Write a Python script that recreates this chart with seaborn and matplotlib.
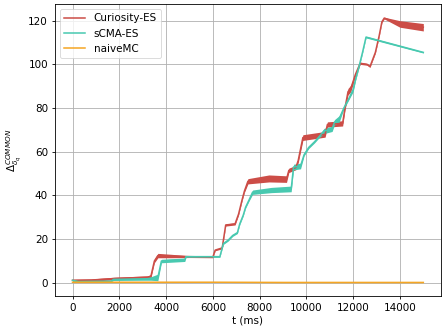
import numpy as np
import pandas as pd
import matplotlib
matplotlib.use("Agg")
import matplotlib.pyplot as plt
import seaborn as sns

# ---- data ----
series_names = ["Curiosity-ES", "sCMA-ES", "naiveMC"]
series_colors = ["#cc4d47", "#48c9b0", "#f5a623"]

curiosity_t = [0, 800, 1800, 3200, 3350, 3500, 3650, 4200, 5000, 6000, 6100, 6400,
               6550, 6950, 7100, 7250, 7350, 7500, 8400, 9150, 9250, 9550, 9650,
               9850, 10800, 10900, 11550, 11650, 11780, 11900, 12100, 12300, 12600,
               12720, 12950, 13110, 13230, 13330, 14000, 15000]
curiosity_mean = [1.2, 1.3, 2.0, 2.6, 3.0, 10.0, 12.5, 12.3, 12.0, 11.8, 15.0, 16.0,
                  26.5, 27.0, 31.5, 38.0, 42.0, 46.5, 47.8, 47.5, 51.5, 52.8, 56.0,
                  66.5, 68.0, 72.5, 73.0, 80.0, 87.5, 89.0, 95.5, 100.5, 100.0,
                  99.0, 105.5, 113.0, 119.5, 121.2, 118.5, 117.0]
curiosity_hw = [0.4, 0.5, 0.6, 0.6, 0.8, 0.8, 1.0, 0.8, 0.4, 0.3, 0.3, 0.4,
                0.5, 0.5, 0.5, 0.5, 0.6, 1.2, 1.6, 1.5, 1.0, 1.0, 1.0,
                1.3, 1.3, 1.2, 1.2, 1.0, 1.5, 1.5, 0.8, 0.5, 0.4,
                0.4, 0.4, 0.4, 0.4, 0.4, 1.5, 1.7]

scma_t = [0, 250, 1650, 1750, 3000, 3350, 3650, 3800, 4800, 4850, 6300, 6450, 6650,
          6850, 7050, 7150, 7300, 7400, 7550, 7700, 8500, 9350, 9450, 9750, 9900,
          10100, 10350, 10550, 10750, 11100, 11200, 11400, 11600, 11800, 12000,
          12100, 12250, 12400, 12550, 15000]
scma_mean = [1.2, 0.6, 0.8, 1.6, 1.8, 2.0, 2.5, 10.0, 10.6, 12.0, 12.0, 18.0, 19.5,
             21.7, 23.0, 27.0, 31.0, 34.6, 38.0, 41.5, 42.5, 43.0, 53.0, 53.5, 58.6,
             62.0, 64.6, 67.0, 69.5, 70.5, 73.5, 75.0, 80.0, 84.0, 88.5,
             93.0, 99.0, 105.5, 112.5, 105.5]
scma_hw = [0.4, 0.3, 0.3, 0.5, 0.6, 0.8, 1.5, 0.8, 0.8, 0.4, 0.3, 0.4, 0.4,
           0.4, 0.4, 0.4, 0.4, 0.4, 0.5, 1.0, 1.2, 1.3, 1.3, 1.3, 0.5,
           0.5, 0.5, 0.5, 1.2, 1.2, 1.2, 1.5, 0.5, 0.5, 1.0,
           0.5, 0.5, 0.5, 0.4, 0.3]

naive_t = [0, 3000, 6000, 9000, 12000, 15000]
naive_mean = [0.3, 0.3, 0.3, 0.2, 0.2, 0.2]
naive_hw = [0.2, 0.2, 0.1, 0.1, 0.1, 0.1]

xlabel = "t (ms)"
ylabel = r"$\Delta_{\delta_q}^{COMMON}$"

# ---- plotting ----
plt.rcParams["font.family"] = ["DejaVu Sans"]
FS = 7.5
fig = plt.figure(figsize=(4.42, 3.27), dpi=100)
ax = fig.add_axes([0.1244, 0.095, 0.873, 0.893])

all_series = [
    (curiosity_t, curiosity_mean, curiosity_hw),
    (scma_t, scma_mean, scma_hw),
    (naive_t, naive_mean, naive_hw),
]
for name, color, (t, m, hw) in zip(series_names, series_colors, all_series):
    t = np.asarray(t, float)
    m = np.asarray(m, float)
    hw = np.asarray(hw, float)
    ax.fill_between(t, m - hw, m + hw, color=color, alpha=1.0, linewidth=0, zorder=2)
    sns.lineplot(x=t, y=m, ax=ax, color=color, label=name, linewidth=1.1, zorder=3)

ax.grid(True, color="#b0b0b0", linewidth=0.6)
ax.set_axisbelow(True)
for s in ax.spines.values():
    s.set_linewidth(0.6)
ax.set_xticks([0, 2000, 4000, 6000, 8000, 10000, 12000, 14000])
ax.set_yticks([0, 20, 40, 60, 80, 100, 120])
ax.set_xlabel(xlabel, fontsize=FS, labelpad=2)
ax.set_ylabel(ylabel, fontsize=FS, labelpad=3)
ax.tick_params(labelsize=FS, width=0.6, length=2.5, pad=2.5)
leg = ax.legend(loc="upper left", fontsize=FS)
leg.get_frame().set_linewidth(0.6)

fig.savefig("out.png", dpi=100)
